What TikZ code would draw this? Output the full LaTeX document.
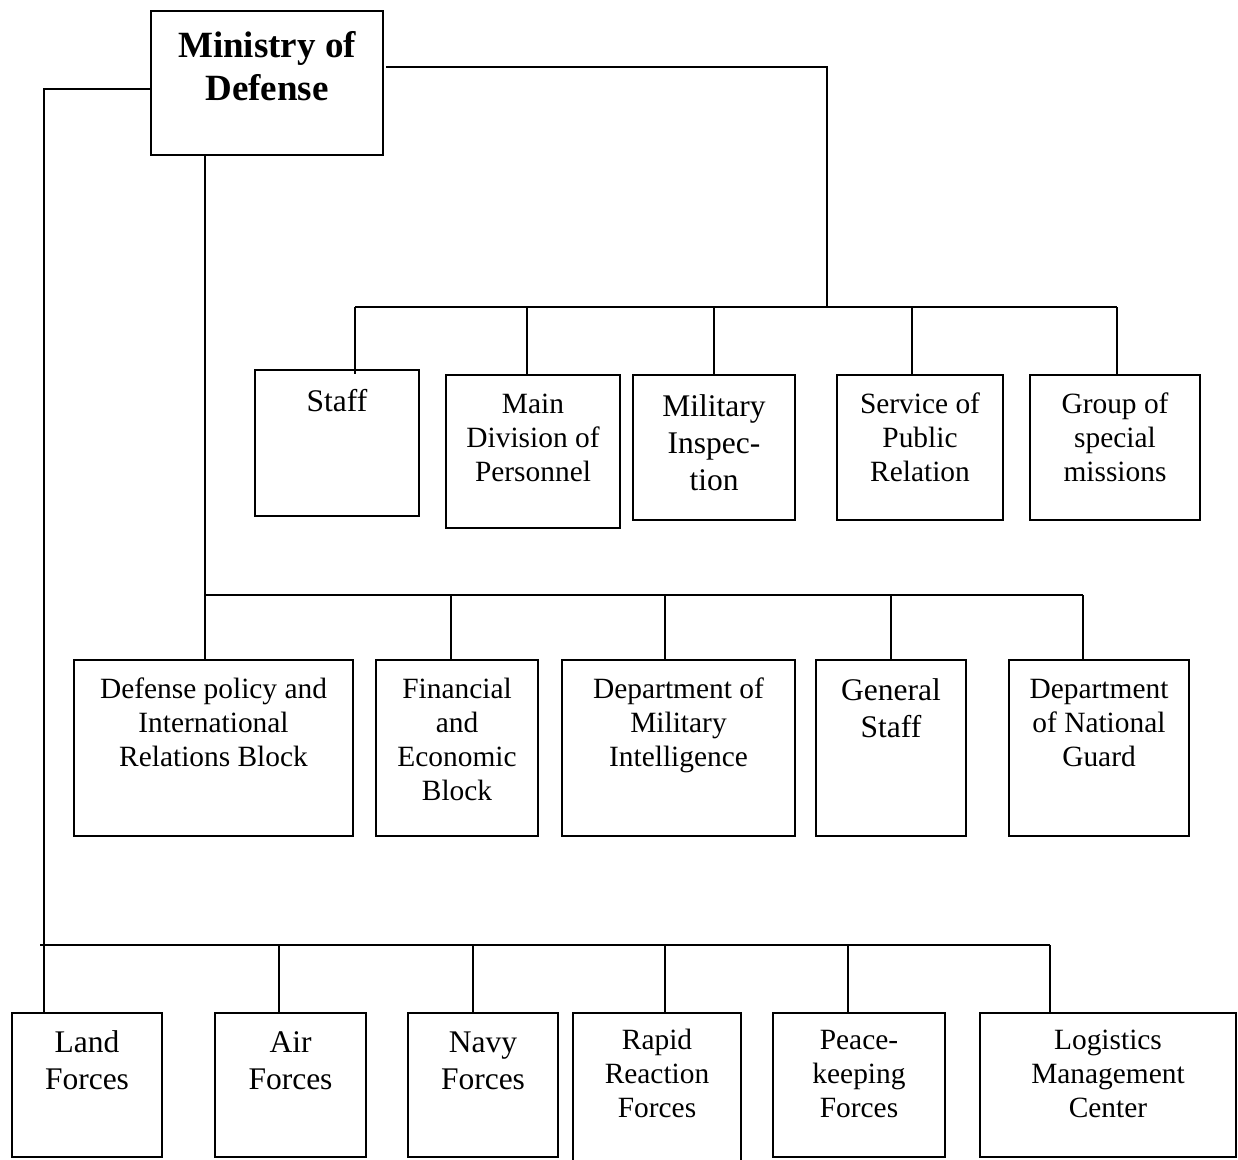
\documentclass[tikz,border=0pt]{standalone}
\usepackage{fontspec}
\setmainfont{Liberation Serif}
\usetikzlibrary{calc}
\begin{document}
\begin{tikzpicture}[x=1pt,y=-1pt,
  every path/.style={line width=2.5pt},
  box/.style={draw, line width=2.5pt, inner sep=0pt, outer sep=0pt, anchor=north west},
  lbl/.style={inner sep=0pt, outer sep=0pt, align=center, anchor=north},
  fs/.style={font=\fontsize{29.4}{34}\selectfont},
  fl/.style={font=\fontsize{31.5}{37}\selectfont},
  fb/.style={font=\bfseries\fontsize{37}{43}\selectfont}]
\fill[white] (0,0) rectangle (1238,1159);
\useasboundingbox (0,0) rectangle (1238,1159);
% Ministry
\node[box, minimum width=232pt, minimum height=144pt] (mod) at (151,11) {};
\node[lbl, fb] (mod-t) at (267,26.9) {\strut Ministry of\\Defense};
% Row 1
\node[box, minimum width=164pt, minimum height=146pt] (staff) at (255,370) {};
\node[box, minimum width=174pt, minimum height=153pt] (main) at (446,375) {};
\node[box, minimum width=162pt, minimum height=145pt] (insp) at (633,375) {};
\node[box, minimum width=166pt, minimum height=145pt] (serv) at (837,375) {};
\node[box, minimum width=170pt, minimum height=145pt] (group) at (1030,375) {};
\node[lbl, fl] (staff-t) at (337,385.1) {\strut Staff};
\node[lbl, fs] (main-t) at (533,389.2) {\strut Main\\Division of\\Personnel};
\node[lbl, fl] (insp-t) at (714,390.1) {\strut Military\\Inspec-\\tion};
\node[lbl, fs] (serv-t) at (920,389.2) {\strut Service of\\Public\\Relation};
\node[lbl, fs] (group-t) at (1115,389.2) {\strut Group of\\special\\missions};
% Row 2
\node[box, minimum width=279pt, minimum height=176pt] (pol) at (74,660) {};
\node[box, minimum width=162pt, minimum height=176pt] (fin) at (376,660) {};
\node[box, minimum width=233pt, minimum height=176pt] (intel) at (562,660) {};
\node[box, minimum width=150pt, minimum height=176pt] (gen) at (816,660) {};
\node[box, minimum width=180pt, minimum height=176pt] (guard) at (1009,660) {};
\node[lbl, fs] (pol-t) at (213.5,674.2) {\strut Defense policy and\\International\\Relations Block};
\node[lbl, fs] (fin-t) at (457,674.2) {\strut Financial\\and\\Economic\\Block};
\node[lbl, fs] (intel-t) at (678.5,674.2) {\strut Department of\\Military\\Intelligence};
\node[lbl, fl] (gen-t) at (891,674.1) {\strut General\\Staff};
\node[lbl, fs] (guard-t) at (1099,674.2) {\strut Department\\of National\\Guard};
% Row 3
\node[box, minimum width=150pt, minimum height=144pt] (land) at (12,1013) {};
\node[box, minimum width=151pt, minimum height=144pt] (air) at (215,1013) {};
\node[box, minimum width=150pt, minimum height=144pt] (navy) at (408,1013) {};
\node[inner sep=0pt, outer sep=0pt, anchor=north west, minimum width=168pt, minimum height=160pt] (rapid) at (573,1013) {};
\draw (rapid.south west) -- (rapid.north west) -- (rapid.north east) -- (rapid.south east);
\node[box, minimum width=172pt, minimum height=144pt] (peace) at (773,1013) {};
\node[box, minimum width=256pt, minimum height=144pt] (logi) at (980,1013) {};
\node[lbl, fl] (land-t) at (87,1026.1) {\strut Land\\Forces};
\node[lbl, fl] (air-t) at (290.5,1026.1) {\strut Air\\Forces};
\node[lbl, fl] (navy-t) at (483,1026.1) {\strut Navy\\Forces};
\node[lbl, fs] (rapid-t) at (657,1025.2) {\strut Rapid\\Reaction\\Forces};
\node[lbl, fs] (peace-t) at (859,1025.2) {\strut Peace-\\keeping\\Forces};
\node[lbl, fs] (logi-t) at (1108,1025.2) {\strut Logistics\\Management\\Center};
% Connector coordinates
\coordinate (L) at (44,89);
\coordinate (R) at (827,67);
\coordinate (t1) at (355,307);
\coordinate (t2) at (527,307);
\coordinate (t3) at (714,307);
\coordinate (t4) at (912,307);
\coordinate (t5) at (1117,307);
\coordinate (m1) at (205,595);
\coordinate (m2) at (451,595);
\coordinate (m3) at (665,595);
\coordinate (m4) at (891,595);
\coordinate (m5) at (1083,595);
\coordinate (b0) at (40,945);
\coordinate (b1) at (279,945);
\coordinate (b2) at (473,945);
\coordinate (b3) at (665,945);
\coordinate (b4) at (848,945);
\coordinate (b5) at (1050,945);
% Left branch
\draw (L -| mod.west) -- (L) -- (L |- land.north);
\draw (b0) -- (b5);
\draw (b1) -- (b1 |- air.north);
\draw (b2) -- (b2 |- navy.north);
\draw (b3) -- (b3 |- rapid.north);
\draw (b4) -- (b4 |- peace.north);
\draw (b5) -- (b5 |- logi.north);
% Right branch
\draw ([xshift=3pt]R -| mod.east) -- (R) -- (R |- t1);
\draw (t1) -- (t5);
\draw (t1) -- ([yshift=-4pt]t1 |- staff.north);
\draw (t2) -- (t2 |- main.north);
\draw (t3) -- (t3 |- insp.north);
\draw (t4) -- (t4 |- serv.north);
\draw (t5) -- (t5 |- group.north);
% Middle branch
\draw (m1 |- mod.south) -- (m1) -- (m5);
\draw (m2) -- (m2 |- fin.north);
\draw (m3) -- (m3 |- intel.north);
\draw (m4) -- (m4 |- gen.north);
\draw (m5) -- (m5 |- guard.north);
\draw (m1) -- (m1 |- pol.north);
\end{tikzpicture}
\end{document}
